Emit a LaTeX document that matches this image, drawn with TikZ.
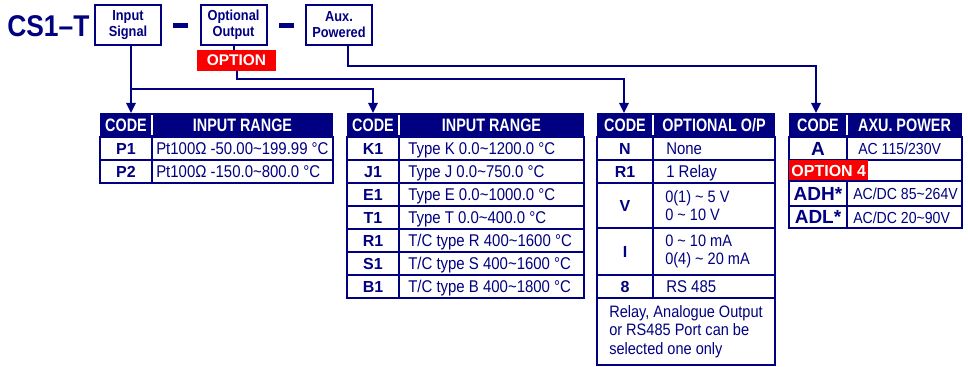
\documentclass[tikz,border=0pt]{standalone}
\usepackage{fontspec}
\setmainfont{Liberation Sans}
\newfontfamily\narrowsf[FakeStretch=0.88]{Liberation Sans}
\newfontfamily\headsf[FakeStretch=0.8]{Liberation Sans}
\usetikzlibrary{arrows.meta}
\definecolor{navyblue}{RGB}{0,0,128}
\definecolor{optred}{RGB}{250,0,0}
\tikzset{
	grid/.style={draw=navyblue, line width=1.5pt},
	conn/.style={draw=navyblue, line width=1.5pt, -{Triangle[width=7pt,length=7.5pt]}},
	plainconn/.style={draw=navyblue, line width=1.5pt},
	sigbox/.style={draw=navyblue, line width=1.5pt, minimum width=49.5pt, minimum height=30pt, inner sep=0pt,
		text=navyblue, align=center, font=\narrowsf\bfseries\fontsize{10.9}{12}\selectfont},
	optbox/.style={fill=optred, text=white, inner sep=0pt, font=\bfseries\fontsize{11.6}{12}\selectfont},
	hdtext/.style={text=white, inner sep=0pt, text height=9.7pt, text depth=0pt,
		font=\headsf\bfseries\fontsize{13.5}{14}\selectfont},
	codetext/.style={text=navyblue, inner sep=0pt, text height=8.6pt, text depth=0pt,
		font=\bfseries\fontsize{12}{13}\selectfont},
	bigcode/.style={text=navyblue, inner sep=0pt, text height=10.2pt, text depth=0pt,
		font=\bfseries\fontsize{14.25}{15}\selectfont},
	desctext/.style={text=navyblue, inner sep=0pt, anchor=west, text height=9.2pt, text depth=0pt,
		font=\narrowsf\fontsize{12.75}{14}\selectfont},
	desclines/.style={text=navyblue, inner sep=0pt, anchor=west, align=left,
		font=\narrowsf\fontsize{12.4}{14}\selectfont}
}
\begin{document}
\begin{tikzpicture}[x=0.75pt, y=-0.75pt]
	\useasboundingbox (0,0) rectangle (968,367);
	% order code
	\node[anchor=base west, inner sep=0pt, text=navyblue, font=\narrowsf\bfseries\fontsize{22.5}{24}\selectfont] (cs) at (7,37) {CS1–T};
	\node[sigbox] (insig) at (128,25) {Input\\Signal};
	\node[sigbox] (optout) at (233.5,25) {Optional\\Output};
	\node[sigbox] (auxpow) at (339,25) {Aux.\\Powered};
	\fill[navyblue] (173,23) rectangle (188,28);
	\fill[navyblue] (279,23) rectangle (294,28);
	\node[optbox, minimum width=59.25pt, minimum height=15.75pt] (opt) at (236.5,60.5) {OPTION};

	% arrow ends
	\coordinate (t1top) at (131,113);
	\coordinate (t2top) at (373,113);
	\coordinate (t3top) at (624,113);
	\coordinate (t4top) at (816,113);
	\coordinate (b1) at (131,89);
	\coordinate (b3) at (624,79);
	\coordinate (b4) at (816,66);
	\draw[conn] (insig.south -| t1top) -- (t1top);
	\draw[conn] (b1) -| (t2top);
	\draw[plainconn] (optout.south) -- (optout.south |- opt.north);
	\draw[conn] (opt.south) |- (b3) -- (t3top);
	\draw[conn] ([xshift=6.75pt]auxpow.south) |- (b4) -- (t4top);

	% table 1
	\fill[navyblue] (100,113) rectangle (333,137);
	\draw[white, line width=1.5pt] (152,115) -- (152,135);
	\node[hdtext] (t1c) at (126,125) {CODE};
	\node[hdtext] (t1h) at (242.5,125) {INPUT RANGE};
	\draw[grid] (100,137) rectangle (333,183);
	\draw[grid] (100,160) -- (333,160) (152,137) -- (152,183);
	\node[codetext] (p1) at (126,148.5) {P1};
	\node[desctext] (p1d) at (156,148.5) {Pt100Ω -50.00\textasciitilde199.99 °C};
	\node[codetext] (p2) at (126,171.5) {P2};
	\node[desctext] (p2d) at (156,171.5) {Pt100Ω -150.0\textasciitilde800.0 °C};

	% table 2
	\fill[navyblue] (347,113) rectangle (584,137);
	\draw[white, line width=1.5pt] (399,115) -- (399,135);
	\node[hdtext] (t2c) at (373,125) {CODE};
	\node[hdtext] (t2h) at (491.5,125) {INPUT RANGE};
	\draw[grid] (347,137) rectangle (584,298);
	\draw[grid] (347,160) -- (584,160) (347,183) -- (584,183) (347,206) -- (584,206)
		(347,229) -- (584,229) (347,252) -- (584,252) (347,275) -- (584,275) (399,137) -- (399,298);
	\node[codetext] (k1) at (373,148.5) {K1};
	\node[desctext] (k1d) at (408,148.5) {Type K 0.0\textasciitilde1200.0 °C};
	\node[codetext] (j1) at (373,171.5) {J1};
	\node[desctext] (j1d) at (408,171.5) {Type J 0.0\textasciitilde750.0 °C};
	\node[codetext] (e1) at (373,194.5) {E1};
	\node[desctext] (e1d) at (408,194.5) {Type E 0.0\textasciitilde1000.0 °C};
	\node[codetext] (tt1) at (373,217.5) {T1};
	\node[desctext] (tt1d) at (408,217.5) {Type T 0.0\textasciitilde400.0 °C};
	\node[codetext] (r1) at (373,240.5) {R1};
	\node[desctext] (r1d) at (408,240.5) {T/C type R 400\textasciitilde1600 °C};
	\node[codetext] (s1) at (373,263.5) {S1};
	\node[desctext] (s1d) at (408,263.5) {T/C type S 400\textasciitilde1600 °C};
	\node[codetext] (bb1) at (373,286.5) {B1};
	\node[desctext] (bb1d) at (408,286.5) {T/C type B 400\textasciitilde1800 °C};

	% table 3
	\fill[navyblue] (597,113) rectangle (775,137);
	\draw[white, line width=1.5pt] (653,115) -- (653,135);
	\node[hdtext] (t3c) at (625,125) {CODE};
	\node[hdtext] (t3h) at (714,125) {OPTIONAL O/P};
	\draw[grid] (597,137) rectangle (775,365);
	\draw[grid] (597,160) -- (775,160) (597,183) -- (775,183) (597,228) -- (775,228)
		(597,275) -- (775,275) (597,298) -- (775,298) (653,137) -- (653,298);
	\node[codetext] (n) at (625,148.5) {N};
	\node[desctext] (nd) at (666,148.5) {None};
	\node[codetext] (rel) at (625,171.5) {R1};
	\node[desctext] (reld) at (666,171.5) {1 Relay};
	\node[codetext] (v) at (625,205.5) {V};
	\node[desclines] (vd) at (665,205.5) {0(1) \textasciitilde{} 5 V\\0 \textasciitilde{} 10 V};
	\node[codetext] (ii) at (625,251.5) {I};
	\node[desclines] (iid) at (665,251.5) {0 \textasciitilde{} 10 mA\\0(4) \textasciitilde{} 20 mA};
	\node[codetext] (rs) at (625,286.5) {8};
	\node[desctext] (rsd) at (666,286.5) {RS 485};
	\node[desclines] (note) at (609,331.5) {Relay, Analogue Output\\or RS485 Port can be\\selected one only};

	% table 4
	\fill[navyblue] (789,113) rectangle (962,137);
	\draw[white, line width=1.5pt] (847,115) -- (847,135);
	\node[hdtext] (t4c) at (818,125) {CODE};
	\node[hdtext] (t4h) at (904.5,125) {AXU. POWER};
	\draw[grid] (789,137) rectangle (962,228);
	\draw[grid] (789,160) -- (962,160) (789,181) -- (962,181) (789,206) -- (962,206)
		(847,137) -- (847,160) (847,181) -- (847,228);
	\node[bigcode] (a) at (818,148.5) {A};
	\node[desctext, font=\narrowsf\fontsize{12}{13}\selectfont] (ad) at (858,148.5) {AC 115/230V};
	\node[optbox, minimum width=59.25pt, minimum height=15pt, anchor=west, font=\bfseries\fontsize{12}{12}\selectfont] (opt4) at (789,170.5) {OPTION 4};
	\node[bigcode] (adh) at (818,193.5) {ADH*};
	\node[desctext, font=\narrowsf\fontsize{12}{13}\selectfont] (adhd) at (853,193.5) {AC/DC 85\textasciitilde264V};
	\node[bigcode] (adl) at (818,217) {ADL*};
	\node[desctext, font=\narrowsf\fontsize{12}{13}\selectfont] (adld) at (853,217) {AC/DC 20\textasciitilde90V};
\end{tikzpicture}
\end{document}
